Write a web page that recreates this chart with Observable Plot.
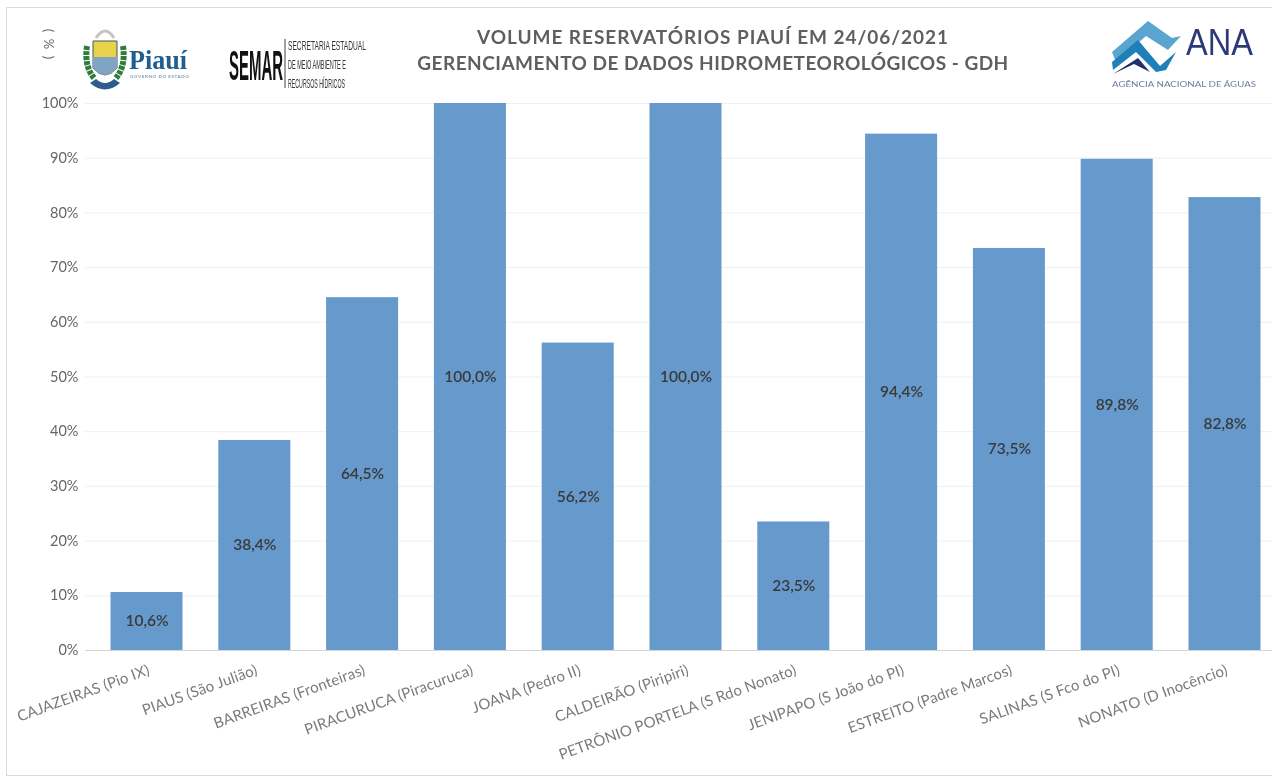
<!DOCTYPE html>
<html><head><meta charset="utf-8">
<script src="https://cdn.jsdelivr.net/npm/d3@7"></script>
<script src="https://cdn.jsdelivr.net/npm/@observablehq/plot@0.6"></script>
<style>
html,body{margin:0;padding:0;background:#fff;overflow:hidden}
#wrap{position:relative;width:1272px;height:779px;font-family:Lato,sans-serif;overflow:hidden;filter:blur(.45px)}
#frame{position:absolute;left:6px;top:7px;width:1300px;height:769px;border:1px solid #dcdcdc;box-sizing:border-box}
.title{position:absolute;left:413px;width:600px;text-align:center;color:#5f5f5f;font-weight:700;font-size:19px;white-space:nowrap;line-height:24px}
#logos{position:absolute;left:0;top:0}
#chart g[aria-label="x-axis tick label"] text{letter-spacing:.15px}
svg{display:block}
</style></head><body>
<div id="wrap">
<div id="frame"></div>
<div id="chart"></div>
<div class="title" style="top:25px;letter-spacing:.95px">VOLUME RESERVATÓRIOS PIAUÍ EM 24/06/2021</div>
<div class="title" style="top:51px;letter-spacing:.5px">GERENCIAMENTO DE DADOS HIDROMETEOROLÓGICOS - GDH</div>
<svg id="logos" width="1272" height="100" font-family="Lato,sans-serif">
  <text transform="translate(47,44) rotate(90)" text-anchor="middle" dominant-baseline="middle" font-size="13" fill="#666" xml:space="preserve">(  %  )</text>
  <path d="M87 46 Q84 66 94 78 M123 46 Q126 66 116 78" fill="none" stroke="#2f7d3a" stroke-width="6" stroke-dasharray="4 1"/>
  <path d="M93 41 H117 V68 Q105 82 93 68Z" fill="#e8d24a" stroke="#456" stroke-width="1"/>
  <path d="M93 57 H117 V68 Q105 82 93 68Z" fill="#7fa5c4"/>
  <path d="M96 38 Q105 24 114 38" fill="none" stroke="#c4c4c4" stroke-width="3"/>
  <path d="M90 83 Q105 96 120 83 L114 79 Q105 87 96 79Z" fill="#2d5d8a"/>
  <text x="129" y="69" font-family="'Liberation Serif',serif" font-weight="700" font-size="27" fill="#1f5f8f" textLength="58" lengthAdjust="spacingAndGlyphs">Piauí</text>
  <text x="130" y="78" font-size="4.5" font-weight="700" fill="#7d99ad" letter-spacing=".6">GOVERNO DO ESTADO</text>
  <text transform="translate(229,80) scale(1,2.7)" font-family="'Liberation Sans Narrow','Liberation Sans',sans-serif" font-weight="700" font-size="16" fill="#111" textLength="54" lengthAdjust="spacingAndGlyphs">SEMAR</text>
  <path d="M285 39 V88" stroke="#444"/>
  <g font-family="'Liberation Sans Narrow','Liberation Sans',sans-serif" font-size="8" fill="#333">
    <text transform="translate(288,50) scale(1,1.5)" textLength="78" lengthAdjust="spacingAndGlyphs">SECRETARIA ESTADUAL</text>
    <text transform="translate(288,69) scale(1,1.5)" textLength="58" lengthAdjust="spacingAndGlyphs">DE MEIO AMBIENTE E</text>
    <text transform="translate(288,88) scale(1,1.5)" textLength="57" lengthAdjust="spacingAndGlyphs">RECURSOS HÍDRICOS</text>
  </g>
  <path d="M1112 52 L1148 21 L1172 38 L1181 36 L1168 50 L1146 36 L1116 62Z" fill="#5aa5cf"/>
  <path d="M1112 62 L1138 40 L1160 66 L1176 52 L1166 70 L1156 72 L1136 52 L1113 70Z" fill="#1f7fb8"/>
  <path d="M1113 74 L1138 58 L1150 72 L1134 64 Z" fill="#20306f"/>
  <text x="1186" y="55" font-family="'Liberation Sans',sans-serif" font-size="37" fill="#2c3a78" textLength="67" lengthAdjust="spacingAndGlyphs">ANA</text>
  <text x="1112" y="87" font-size="7.6" fill="#6d7fa0" textLength="144" lengthAdjust="spacingAndGlyphs">AGÊNCIA NACIONAL DE ÁGUAS</text>
</svg>
</div>
<script>
const reservoirs = ["CAJAZEIRAS (Pio IX)","PIAUS (São Julião)","BARREIRAS (Fronteiras)","PIRACURUCA (Piracuruca)","JOANA (Pedro II)","CALDEIRÃO (Piripiri)","PETRÔNIO PORTELA (S Rdo Nonato)","JENIPAPO (S João do PI)","ESTREITO (Padre Marcos)","SALINAS (S Fco do PI)","NONATO (D Inocêncio)"];
const volumes = [10.6,38.4,64.5,100,56.2,100,23.5,94.4,73.5,89.8,82.8];
const yTicks = [0,10,20,30,40,50,60,70,80,90,100];
const rows = reservoirs.map((name,i)=>({name,value:volumes[i]}));
const fmt = v => v.toFixed(1).replace(".",",")+"%";
const chart = Plot.plot({
  width:1272,height:779,marginTop:103,marginBottom:129,marginLeft:85,marginRight:0,
  style:{background:"transparent",fontFamily:"Lato,sans-serif",overflow:"visible"},
  x:{domain:reservoirs,range:[110.5,1260.5],paddingInner:0.332,paddingOuter:0,align:0.5,round:false,label:null},
  y:{domain:[0,100],label:null},
  marks:[
    Plot.ruleY(yTicks.slice(1),{stroke:"#efefef",strokeWidth:1}),
    Plot.barY(rows,{x:"name",y:"value",fill:"#6699cc"}),
    Plot.ruleY([0],{stroke:"#d4d4d4",strokeWidth:1}),
    Plot.text(rows,{x:"name",y:d=>d.value/2,text:d=>fmt(d.value),fill:"#3a3a3a",fontSize:15.5,fontWeight:600,letterSpacing:.4}),
    Plot.axisY({ticks:yTicks,tickFormat:d=>d+"%",tickSize:0,tickPadding:7,fontSize:14.5,color:"#666",label:null}),
    Plot.axisX({tickSize:0,tickRotate:-20,tickPadding:19,dx:2,fontSize:15,color:"#7a7a7a",label:null,textAnchor:"end",lineWidth:50})
  ]
});
document.getElementById("chart").append(chart);
</script>
</body></html>
